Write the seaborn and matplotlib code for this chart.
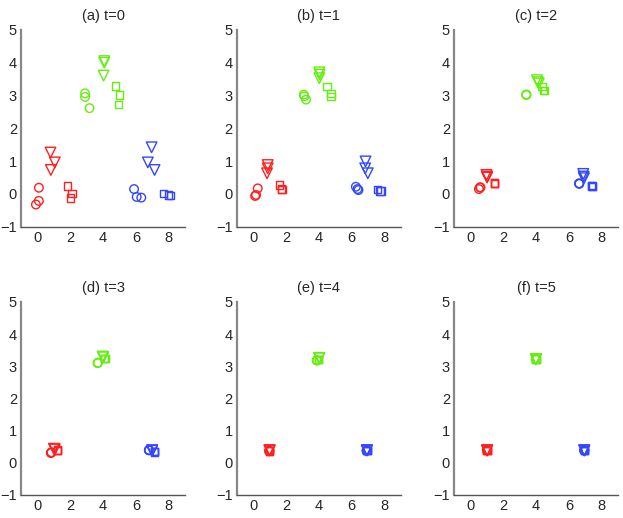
import numpy as np
import pandas as pd
import seaborn as sns
import matplotlib.pyplot as plt

# group / marker for each of the 27 points (3 per group+shape)
groups = ['r'] * 9 + ['g'] * 9 + ['b'] * 9
shapes = (['o'] * 3 + ['v'] * 3 + ['s'] * 3) * 3

titles = ['(a) t=0', '(b) t=1', '(c) t=2', '(d) t=3', '(e) t=4', '(f) t=5']

t0_x = [0.08, 0.08, -0.10, 0.79, 1.05, 0.81, 1.83, 2.10, 2.00,
        2.90, 2.90, 3.17, 4.07, 4.07, 4.03, 4.74, 5.02, 4.92,
        5.89, 6.05, 6.33, 6.96, 6.73, 7.14, 7.70, 8.00, 8.10]
t0_y = [0.19, -0.21, -0.32, 1.26, 0.96, 0.73, 0.24, 0.01, -0.12,
        3.06, 2.95, 2.61, 4.04, 3.99, 3.60, 3.28, 3.01, 2.73,
        0.15, -0.09, -0.11, 1.42, 0.96, 0.73, 0.02, -0.03, -0.04]

t1_x = [0.28, 0.18, 0.12, 0.89, 0.89, 0.85, 1.62, 1.74, 1.76,
        3.09, 3.13, 3.23, 4.04, 4.06, 4.04, 4.51, 4.75, 4.75,
        6.27, 6.37, 6.43, 6.86, 6.84, 7.00, 7.60, 7.75, 7.80]
t1_y = [0.17, -0.03, -0.06, 0.88, 0.78, 0.63, 0.27, 0.15, 0.13,
        3.02, 2.97, 2.87, 3.70, 3.63, 3.52, 3.26, 3.06, 2.96,
        0.22, 0.15, 0.12, 0.99, 0.78, 0.63, 0.14, 0.09, 0.09]

t2_x = [0.57, 0.51, 0.61, 0.97, 1.01, 1.01, 1.46, 1.48, 1.47,
        3.40, 3.41, 3.40, 4.05, 4.11, 4.17, 4.35, 4.45, 4.50,
        6.62, 6.64, 6.63, 6.88, 6.90, 6.92, 7.39, 7.43, 7.42]
t2_y = [0.20, 0.15, 0.20, 0.58, 0.53, 0.50, 0.33, 0.31, 0.33,
        3.02, 3.02, 3.01, 3.46, 3.40, 3.36, 3.26, 3.15, 3.14,
        0.32, 0.31, 0.32, 0.61, 0.53, 0.48, 0.25, 0.23, 0.24]

t3_x = [0.81, 0.85, 0.83, 1.00, 1.05, 1.02, 1.21, 1.20, 1.22,
        3.67, 3.68, 3.67, 3.97, 4.01, 3.99, 4.10, 4.11, 4.12,
        6.79, 6.80, 6.81, 6.99, 6.98, 7.00, 7.14, 7.13, 7.15]
t3_y = [0.30, 0.32, 0.31, 0.43, 0.41, 0.42, 0.39, 0.38, 0.39,
        3.10, 3.11, 3.10, 3.30, 3.28, 3.29, 3.25, 3.24, 3.25,
        0.39, 0.38, 0.39, 0.38, 0.37, 0.38, 0.34, 0.33, 0.34]

t4_x = [0.98, 0.99, 0.98, 1.00, 1.01, 1.00, 1.00, 1.01, 1.00,
        3.88, 3.90, 3.89, 4.04, 4.03, 4.04, 3.98, 3.99, 3.98,
        6.93, 6.94, 6.93, 6.94, 6.95, 6.94, 6.94, 6.95, 6.94]
t4_y = [0.36, 0.37, 0.36, 0.38, 0.38, 0.38, 0.36, 0.37, 0.36,
        3.18, 3.19, 3.18, 3.26, 3.25, 3.26, 3.20, 3.21, 3.20,
        0.37, 0.38, 0.37, 0.38, 0.38, 0.38, 0.37, 0.37, 0.37]

t5_x = [1.01, 1.01, 1.01, 1.01, 1.01, 1.01, 1.01, 1.01, 1.01,
        3.99, 3.99, 3.99, 3.99, 3.99, 3.99, 3.99, 3.99, 3.99,
        6.94, 6.94, 6.94, 6.94, 6.94, 6.94, 6.94, 6.94, 6.94]
t5_y = [0.38, 0.38, 0.38, 0.38, 0.38, 0.38, 0.38, 0.38, 0.38,
        3.22, 3.22, 3.22, 3.22, 3.22, 3.22, 3.22, 3.22, 3.22,
        0.38, 0.38, 0.38, 0.38, 0.38, 0.38, 0.38, 0.38, 0.38]

all_x = [t0_x, t1_x, t2_x, t3_x, t4_x, t5_x]
all_y = [t0_y, t1_y, t2_y, t3_y, t4_y, t5_y]

colors = {'r': '#ff1f1f', 'g': '#66ee11', 'b': '#3347ff'}
sizes = {'o': 38, 'v': 58, 's': 28}

sns.set_style('white')
plt.rcParams['font.family'] = ['Liberation Sans', 'DejaVu Sans']
plt.rcParams['font.size'] = 10

fig = plt.figure(figsize=(6.23, 5.18), dpi=100)
lefts = [0.034, 0.380, 0.729]
bottoms = [0.562, 0.045]
heights = [0.381, 0.372]

for i in range(6):
    ax = fig.add_axes([lefts[i % 3], bottoms[i // 3], 0.263, heights[i // 3]])
    df = pd.DataFrame({'x': all_x[i], 'y': all_y[i], 'grp': groups, 'shp': shapes})
    for shp in ['o', 'v', 's']:
        sub = df[df['shp'] == shp]
        sns.scatterplot(data=sub, x='x', y='y', hue='grp', palette=colors,
                        marker=shp, s=sizes[shp], linewidth=1.0,
                        legend=False, ax=ax)
    # hollow markers: seaborn fills them, so move the colour to the edge
    for coll in ax.collections:
        fc = coll.get_facecolors()
        coll.set_edgecolors(fc)
        coll.set_facecolors('none')
    ax.set_xlim(-1, 9)
    ax.set_ylim(-1, 5)
    ax.set_xticks([0, 2, 4, 6, 8])
    ax.set_yticks([-1, 0, 1, 2, 3, 4, 5])
    ax.set_yticklabels(['\u22121', '0', '1', '2', '3', '4', '5'])
    ax.set_xlabel('')
    ax.set_ylabel('')
    ax.set_title(titles[i], fontsize=10.5, pad=7)
    sns.despine(ax=ax)
    ax.spines['left'].set_color('#888888')
    ax.spines['bottom'].set_color('#555555')
    ax.spines['left'].set_linewidth(1.6)
    ax.spines['bottom'].set_linewidth(1.0)
    ax.tick_params(direction='in', length=3, color='#888888', labelsize=10.5)
    ax.tick_params(axis='x', pad=3)
    ax.tick_params(axis='y', pad=3)

fig.savefig('out.png', dpi=100)
